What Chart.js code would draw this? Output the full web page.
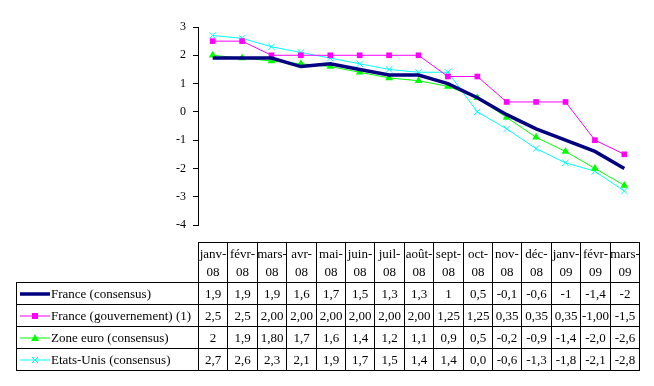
<!DOCTYPE html>
<html>
<head>
<meta charset="utf-8">
<script src="https://cdn.jsdelivr.net/npm/chart.js@4/dist/chart.umd.min.js"></script>
<style>
  html, body { margin: 0; padding: 0; background: #fff; }
  #wrap { position: relative; width: 654px; height: 386px; overflow: hidden; }
  #chart { position: absolute; left: 0; top: 0; }
  .cell {
    position: absolute; box-sizing: border-box; border: 1px solid #000;
    font-family: "Liberation Serif", "Times New Roman", serif; font-size: 13px; color: #000;
    display: flex; align-items: center; justify-content: center; text-align: center;
    line-height: 18px; white-space: nowrap;
  }
  .cell.lab { justify-content: flex-start; padding-left: 3px; }
  .cell.lab svg { margin-right: 1px; }
</style>
</head>
<body>
<div id="wrap">
  <canvas id="chart" width="654" height="386"></canvas>
</div>
<script>
const months = ['janv-08', 'févr-08', 'mars-08', 'avr-08', 'mai-08', 'juin-08', 'juil-08', 'août-08',
                'sept-08', 'oct-08', 'nov-08', 'déc-08', 'janv-09', 'févr-09', 'mars-09'];

const seriesNames = ['France (consensus)', 'France (gouvernement) (1)', 'Zone euro (consensus)', 'Etats-Unis (consensus)'];

const franceConsensus = [1.9, 1.9, 1.9, 1.6, 1.7, 1.5, 1.3, 1.3, 1, 0.5, -0.1, -0.6, -1, -1.4, -2];
const franceGouv = [2.5, 2.5, 2.0, 2.0, 2.0, 2.0, 2.0, 2.0, 1.25, 1.25, 0.35, 0.35, 0.35, -1.0, -1.5];
const zoneEuro = [2, 1.9, 1.8, 1.7, 1.6, 1.4, 1.2, 1.1, 0.9, 0.5, -0.2, -0.9, -1.4, -2.0, -2.6];
const etatsUnis = [2.7, 2.6, 2.3, 2.1, 1.9, 1.7, 1.5, 1.4, 1.4, 0.0, -0.6, -1.3, -1.8, -2.1, -2.8];

// text shown in the data table, as written in the source
const franceConsensusTxt = ['1,9', '1,9', '1,9', '1,6', '1,7', '1,5', '1,3', '1,3', '1', '0,5', '-0,1', '-0,6', '-1', '-1,4', '-2'];
const franceGouvTxt = ['2,5', '2,5', '2,00', '2,00', '2,00', '2,00', '2,00', '2,00', '1,25', '1,25', '0,35', '0,35', '0,35', '-1,00', '-1,5'];
const zoneEuroTxt = ['2', '1,9', '1,80', '1,7', '1,6', '1,4', '1,2', '1,1', '0,9', '0,5', '-0,2', '-0,9', '-1,4', '-2,0', '-2,6'];
const etatsUnisTxt = ['2,7', '2,6', '2,3', '2,1', '1,9', '1,7', '1,5', '1,4', '1,4', '0,0', '-0,6', '-1,3', '-1,8', '-2,1', '-2,8'];

const yTicks = [3, 2, 1, 0, -1, -2, -3, -4];

const colors = ['#000080', '#ff00ff', '#00ff00', '#00ffff'];

const ctx = document.getElementById('chart').getContext('2d');

const chart = new Chart(ctx, {
    type: 'line',
    data: {
        labels: months,
        datasets: [
            { label: seriesNames[0], data: franceConsensus, borderColor: colors[0], backgroundColor: colors[0],
              borderWidth: 3.5, pointRadius: 0 },
            { label: seriesNames[1], data: franceGouv, borderColor: colors[1], backgroundColor: colors[1],
              borderWidth: 1, pointStyle: 'rect', pointRadius: 4, pointBorderWidth: 0 },
            { label: seriesNames[2], data: zoneEuro, borderColor: colors[2], backgroundColor: colors[2],
              borderWidth: 1, pointStyle: 'triangle', pointRadius: 4.5, pointBorderWidth: 0 },
            { label: seriesNames[3], data: etatsUnis, borderColor: colors[3], backgroundColor: colors[3],
              borderWidth: 1, pointStyle: 'crossRot', pointRadius: 4.5, pointBorderWidth: 1 }
        ]
    },
    options: {
        responsive: false,
        animation: false,
        layout: { padding: { left: 158, right: 15, top: 27, bottom: 161 } },
        plugins: { legend: { display: false }, tooltip: { enabled: false } },
        scales: {
            x: { display: false, offset: true },
            y: {
                min: Math.min(...yTicks), max: Math.max(...yTicks),
                afterFit: s => { s.width = 40; },
                afterBuildTicks: s => { s.ticks = yTicks.map(v => ({ value: v })); },
                border: { display: true, color: '#000', width: 1 },
                grid: { drawOnChartArea: false, drawTicks: true, tickLength: 5, color: '#000' },
                ticks: { color: '#000', padding: 7, font: { family: 'Liberation Serif', size: 12 } }
            }
        }
    }
});

// legend keys for the table
function keySvg(i) {
    const c = colors[i];
    let m = '';
    if (i === 0) return `<svg width="30" height="10"><line x1="0" y1="5" x2="30" y2="5" stroke="${c}" stroke-width="3.5"/></svg>`;
    if (i === 1) m = `<rect x="12" y="2" width="6" height="6" fill="${c}"/>`;
    if (i === 2) m = `<polygon points="15,1 19,8 11,8" fill="${c}"/>`;
    if (i === 3) m = `<path d="M12 2 L18 8 M18 2 L12 8" stroke="${c}" stroke-width="1"/>`;
    return `<svg width="30" height="10"><line x1="0" y1="5" x2="30" y2="5" stroke="${c}" stroke-width="1"/>${m}</svg>`;
}

function addCell(x, y, w, h, html, cls) {
    const d = document.createElement('div');
    d.className = 'cell' + (cls ? ' ' + cls : '');
    d.style.left = x + 'px';
    d.style.top = y + 'px';
    d.style.width = (w + 1) + 'px';
    d.style.height = (h + 1) + 'px';
    d.innerHTML = html;
    document.getElementById('wrap').appendChild(d);
}

// data table under the plot, columns taken from the x scale
const xs = chart.scales.x;
const colW = (xs.right - xs.left) / months.length;
const rowTops = [242, 282, 304, 326, 348, 370];
const tableLeft = 16;
const tableTxt = [franceConsensusTxt, franceGouvTxt, zoneEuroTxt, etatsUnisTxt];

months.forEach((m, i) => {
    const p = m.split('-');
    const x = Math.round(xs.left + i * colW);
    const w = Math.round(xs.left + (i + 1) * colW) - x;
    addCell(x, rowTops[0], w, rowTops[1] - rowTops[0], p[0] + '-<br>' + p[1]);
    tableTxt.forEach((arr, r) => {
        addCell(x, rowTops[r + 1], w, rowTops[r + 2] - rowTops[r + 1], arr[i]);
    });
});
seriesNames.forEach((name, r) => {
    addCell(tableLeft, rowTops[r + 1], Math.round(xs.left) - tableLeft, rowTops[r + 2] - rowTops[r + 1], keySvg(r) + name, 'lab');
});
</script>
</body>
</html>
